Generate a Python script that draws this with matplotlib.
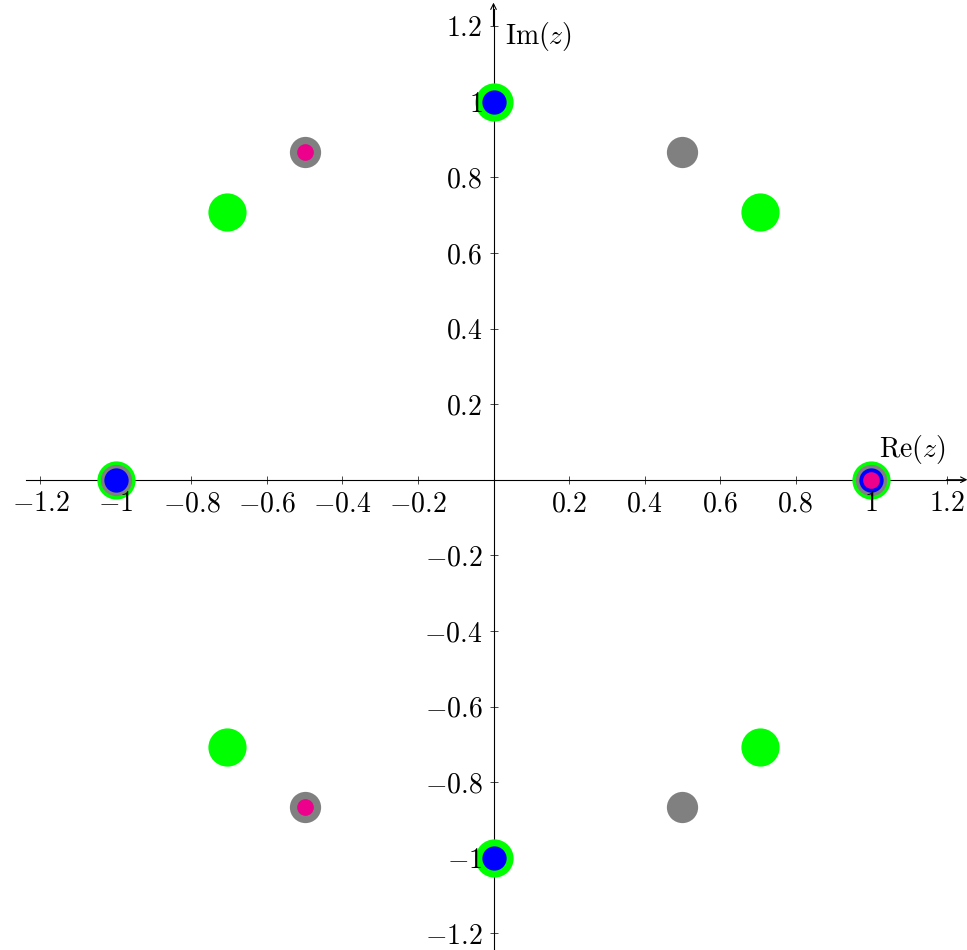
import matplotlib
matplotlib.use("Agg")
import matplotlib.pyplot as plt
import numpy as np

matplotlib.rcParams["mathtext.fontset"] = "cm"
matplotlib.rcParams["font.family"] = "serif"
matplotlib.rcParams["font.serif"] = ["cmr10", "DejaVu Serif"]
matplotlib.rcParams["axes.formatter.use_mathtext"] = True

# roots of unity
eighth_re = [1, 0.707, 0, -0.707, -1, -0.707, 0, 0.707]
eighth_im = [0, 0.707, 1, 0.707, 0, -0.707, -1, -0.707]
sixth_re = [1, 0.5, -0.5, -1, -0.5, 0.5]
sixth_im = [0, 0.866, 0.866, 0, -0.866, -0.866]
fourth_re = [1, 0, -1, 0]
fourth_im = [0, 1, 0, -1]
third_re = [1, -0.5, -0.5]
third_im = [0, 0.866, -0.866]

ticks = [-1.2, -1, -0.8, -0.6, -0.4, -0.2, 0.2, 0.4, 0.6, 0.8, 1, 1.2]


def fmt(v):
    s = ("%g" % abs(v))
    return r"$%s%s$" % ("-" if v < 0 else "", s)


fig = plt.figure(figsize=(9.67, 9.5), dpi=100)
ax = fig.add_axes([0, 0, 1, 1])
ax.set_xlim(-1.307, 1.254)
ax.set_ylim(-1.244, 1.269)

series = [
    (eighth_re, eighth_im, "#00ff00", 27.5),
    (sixth_re, sixth_im, "#808080", 22.5),
    (fourth_re, fourth_im, "#0000ff", 17.5),
    (third_re, third_im, "#ec008c", 12.0),
]
for xs, ys, c, ms in series:
    ax.plot(xs, ys, "o", color=c, markersize=ms, markeredgewidth=0,
            linestyle="none", zorder=2)

# tick labels must sit above the markers (the "1" next to the marker at i)
ax.set_axisbelow(False)

for side in ["top", "right"]:
    ax.spines[side].set_visible(False)
ax.spines["left"].set_position(("data", 0))
ax.spines["bottom"].set_position(("data", 0))
ax.spines["bottom"].set_bounds(-1.237, 1.245)
ax.spines["left"].set_bounds(-1.244, 1.245)
for s in ["left", "bottom"]:
    ax.spines[s].set_linewidth(0.8)
    ax.spines[s].set_zorder(1)

ax.annotate("", xy=(1.255, 0), xytext=(1.2, 0),
            arrowprops=dict(arrowstyle="->", lw=0.8, color="black",
                            shrinkA=0, shrinkB=0))
ax.annotate("", xy=(0, 1.262), xytext=(0, 1.2),
            arrowprops=dict(arrowstyle="->", lw=0.8, color="black",
                            shrinkA=0, shrinkB=0))

ax.set_xticks(ticks)
ax.set_yticks(ticks)
ax.set_xticklabels([fmt(t) for t in ticks])
ax.set_yticklabels([fmt(t) for t in ticks])
ax.tick_params(direction="inout", length=6, width=0.5, labelsize=20, pad=5)

# tick marks at +-1 are covered by the markers in the original
for axis in [ax.xaxis, ax.yaxis]:
    for t, tk in zip(ticks, axis.get_major_ticks()):
        if abs(t) == 1:
            tk.tick1line.set_visible(False)

ax.text(1.11, 0.035, r"$\mathrm{Re}(z)$", fontsize=20, ha="center", va="bottom")
ax.text(0.03, 1.173, r"$\mathrm{Im}(z)$", fontsize=20, ha="left", va="center")

fig.savefig("out.png", dpi=100)
